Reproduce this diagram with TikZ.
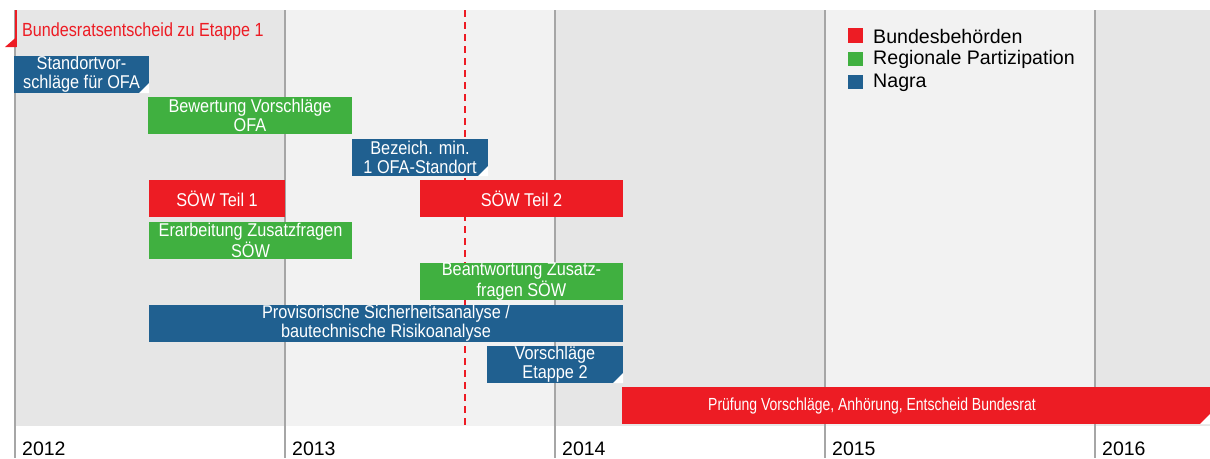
\documentclass[tikz,border=0pt]{standalone}
\usepackage{fontspec}
\setmainfont{Liberation Sans}
\newfontfamily\condfont[FakeStretch=0.88]{Liberation Sans}
\newfontfamily\narrowfont[FakeStretch=0.8]{Liberation Sans}
\newfontfamily\headfont[FakeStretch=0.85]{Liberation Sans}
\definecolor{bred}{RGB}{237,28,36}
\definecolor{bgreen}{RGB}{64,176,64}
\definecolor{bblue}{RGB}{32,96,144}
\definecolor{coldark}{RGB}{230,230,230}
\definecolor{collight}{RGB}{242,242,242}
\definecolor{yearline}{RGB}{166,166,166}
\tikzset{
  bar/.style={anchor=north west, minimum height=37pt, inner sep=0pt, outer sep=0pt,
    text=white, align=center, font=\condfont\fontsize{18.5}{19}\selectfont},
  bartxt/.style={text=white, inner sep=0pt, font=\narrowfont\fontsize{17.5}{17.5}\selectfont},
  corner/.style={fill=white},
  legend/.style={anchor=west, inner sep=0pt, font=\fontsize{19.6}{19.6}\selectfont},
  year/.style={anchor=base west, inner sep=0pt, font=\fontsize{19.5}{19.5}\selectfont},
}
\begin{document}
\begin{tikzpicture}[x=1pt,y=-1pt]
  \useasboundingbox (0,0) rectangle (1210,458);
  % columns
  \fill[coldark] (15,10) rectangle (285,426);
  \fill[collight] (285,10) rectangle (555,426);
  \fill[coldark] (555,10) rectangle (825,426);
  \fill[collight] (825,10) rectangle (1095,426);
  \fill[coldark] (1095,10) rectangle (1210,426);
  \foreach \x/\yr in {15/2012,285/2013,555/2014,825/2015,1095/2016} {
    \draw[yearline, line width=1.5pt] (\x,10) -- (\x,458);
    \node[year] (y\yr) at (\x+7,455.5) {\yr};
  }
  % stichtag
  \draw[bred, line width=2pt, dash pattern=on 7pt off 5pt] (465,10) -- (465,426);
  \draw[bred, line width=2pt] (15.5,10) -- (15.5,47);
  \fill[bred] (5,47) -- (16.5,47) -- (16.5,37) -- cycle;
  \node[anchor=base west, inner sep=0pt, text=bred,
    font=\headfont\fontsize{19}{19}\selectfont] (entscheid) at (22,36) {Bundesratsentscheid zu Etappe 1};
  % bars
  \node[bar, fill=bblue, minimum width=135pt] (std) at (14,56) {Standortvor-\\schläge für OFA};
  \node[bar, fill=bgreen, minimum width=204pt] (bew) at (148,97) {Bewertung Vorschläge\\OFA};
  \node[bar, fill=bblue, minimum width=136pt] (bez) at (352,139) {Bezeich. min.\\1 OFA-Standort};
  \node[bar, fill=bred, minimum width=136pt] (soew1) at (149,180) {SÖW Teil 1};
  \node[bar, fill=bred, minimum width=203pt] (soew2) at (420,180) {SÖW Teil 2};
  \node[bar, fill=bgreen, minimum width=203pt] (erarb) at (149,222) {Erarbeitung Zusatzfragen\\SÖW};
  \node[bar, fill=bgreen, minimum width=203pt] (beant) at (420,263) {Beantwortung Zusatz-\\fragen SÖW};
  \node[bar, fill=bblue, minimum width=474pt] (prov) at (149,305) {Provisorische Sicherheitsanalyse /\\bautechnische Risikoanalyse};
  \node[bar, fill=bblue, minimum width=136pt] (vorsch) at (487,346) {Vorschläge\\Etappe 2};
  \node[bar, fill=bred, minimum width=588pt] (pruef) at (622,387) {};
  \node[bartxt] (prueftxt) at (872,405.5) {Prüfung Vorschläge, Anhörung, Entscheid Bundesrat};
  % corner marks
  \foreach \n in {std,bez,vorsch,pruef}
    \fill[corner] (\n.south east) -- ++(-10,0) -- ++(10,-10) -- cycle;
  % legend
  \fill[bred] (848,28) rectangle (863,43);
  \fill[bgreen] (848,52) rectangle (863,66);
  \fill[bblue] (848,75) rectangle (863,89);
  \node[legend] (lbund) at (873,36) {Bundesbehörden};
  \node[legend] (lreg) at (873,59.5) {Regionale Partizipation};
  \node[legend] (lnagra) at (873,83) {Nagra};
\end{tikzpicture}
\end{document}
